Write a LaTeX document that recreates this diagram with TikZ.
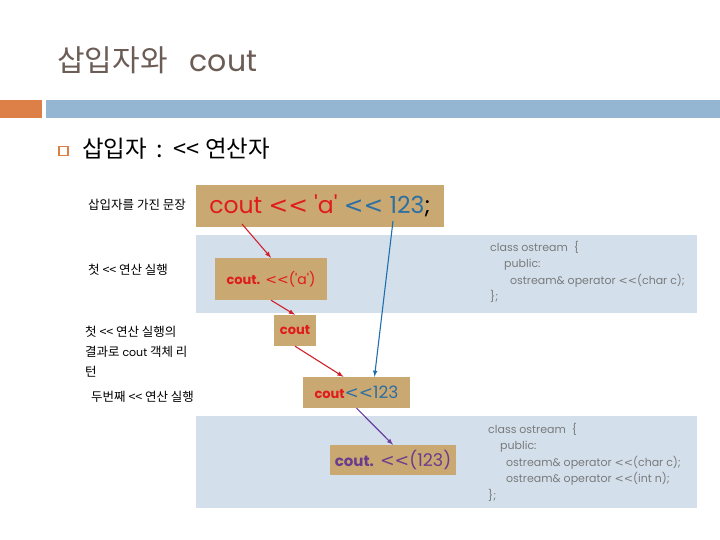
\documentclass[tikz,border=0pt]{standalone}
\usepackage{fontspec}
\setmainfont{Poppins}[Ligatures=TeXOff]
\newfontfamily\kr{Noto Sans CJK KR}[Ligatures=TeXOff]
\newfontfamily\symf{DejaVu Sans}[Ligatures=TeXOff]
\newcommand\shl{{\symf<<}}
\usepackage{tikz}
\usetikzlibrary{shapes,arrows}
\usepackage{xcolor}
\definecolor{titlegray}{HTML}{6B5C55}
\definecolor{barorange}{HTML}{DD8047}
\definecolor{barblue}{HTML}{94B6D2}
\definecolor{boxtan}{HTML}{C9A872}
\definecolor{panelblue}{HTML}{D3E0EC}
\definecolor{codered}{HTML}{E01B1B}
\definecolor{codeblue}{HTML}{2C6FA3}
\definecolor{codepurple}{HTML}{6A3C8C}
\definecolor{classgray}{HTML}{7A7A7A}
\definecolor{arrowred}{HTML}{D0202A}
\definecolor{arrowblue}{HTML}{1F6FB0}
\definecolor{arrowpurple}{HTML}{6B3FA0}

\tikzset{
	codebox/.style={fill=boxtan, inner sep=0pt, align=center},
	klabel/.style={anchor=base west, inner sep=0pt, font=\kr\fontsize{12.5}{20}\selectfont},
	classtxt/.style={anchor=north west, inner sep=0pt, align=left, text=classgray, font=\fontsize{11}{16.5}\selectfont},
	flow/.style={-latex, line width=1.1pt}
}

\begin{document}
\begin{tikzpicture}[x=1pt,y=-1pt]
	\useasboundingbox (0,0) rectangle (720,540);
	% title and bars
	\node[anchor=base west, inner sep=0pt, text=titlegray, font=\fontsize{30}{36}\selectfont] (title) at (57,72) {{\kr 삽입자와}\hspace{22pt}cout};
	\fill[barorange] (0,100) rectangle (42,118);		% left bar
	\fill[barblue] (46,100) rectangle (720,118);		% right bar
	\node[draw=barorange, line width=1.2pt, minimum size=9pt, inner sep=0pt] (bullet) at (63.5,151) {};
	\node[anchor=base west, inner sep=0pt, font=\kr\fontsize{23.5}{26}\selectfont] (sub) at (82,158) {삽입자 \,:\, << 연산자};
	% panels
	\fill[panelblue] (196,235) rectangle (697,313);
	\fill[panelblue] (196,416) rectangle (697,508);
	% left labels
	\node[klabel] (lblstmt) at (88,210) {삽입자를 가진 문장};
	\node[klabel] (lblfirst) at (88,274) {첫 << 연산 실행};
	\node[klabel, anchor=north west, align=left] (lblret) at (85,326) {첫 << 연산 실행의\\결과로 {\rmfamily\fontsize{11}{20}\selectfont cout} 객체 리\\턴};
	\node[klabel] (lblsecond) at (91,401) {두번째 << 연산 실행};
	% code boxes
	\node[codebox, minimum width=248pt, minimum height=42pt, font=\fontsize{23.5}{26}\selectfont] (stmt) at (320,206)
		{\textcolor{codered}{cout \shl\ 'a'} \textcolor{codeblue}{\shl\ 123};};
	\node[codebox, minimum width=112pt, minimum height=42pt, text=codered, font=\fontsize{14}{18}\selectfont] (first) at (271,279)
		{{\bfseries\fontsize{13}{16}\selectfont cout.} \shl('a')};
	\node[codebox, minimum width=42pt, minimum height=31pt, text=codered, font=\bfseries\fontsize{13}{16}\selectfont] (ret) at (295,330.5) {cout};
	\node[codebox, minimum width=107pt, minimum height=31pt, font=\fontsize{17}{20}\selectfont] (second) at (356.5,392.5)
		{\textcolor{codered}{\bfseries\fontsize{13}{16}\selectfont cout}\textcolor{codeblue}{\shl 123}};
	\node[codebox, minimum width=126pt, minimum height=30pt, text=codepurple, font=\fontsize{17.5}{22}\selectfont] (call) at (393,460)
		{{\bfseries\fontsize{15}{18}\selectfont cout.} \shl(123)};
	% class declarations
	\node[classtxt] (cls1) at (490,241) {class ostream\ \ \{\\\hspace{14pt}public:\\\hspace{20pt}ostream\& operator \shl(char c);\\\};};
	\node[classtxt] (cls2) at (488,423) {class ostream\ \ \{\\\hspace{12pt}public:\\\hspace{18pt}ostream\& operator \shl(char c);\\\hspace{18pt}ostream\& operator \shl(int n);\\\};};
	% arrows
	\coordinate (stmtcout) at (242,224);
	\coordinate (stmtnum) at (393,221);
	\draw[flow, arrowred] (stmtcout) -- (first.north);
	\draw[flow, arrowred] (first.south) -- (ret.north);
	\draw[flow, arrowred] (ret.south) -- ([xshift=-13pt]second.north);
	\draw[flow, arrowblue] (stmtnum) -- ([xshift=18pt]second.north);
	\draw[flow, arrowpurple] (second.south) -- (call.north);
\end{tikzpicture}
\end{document}
